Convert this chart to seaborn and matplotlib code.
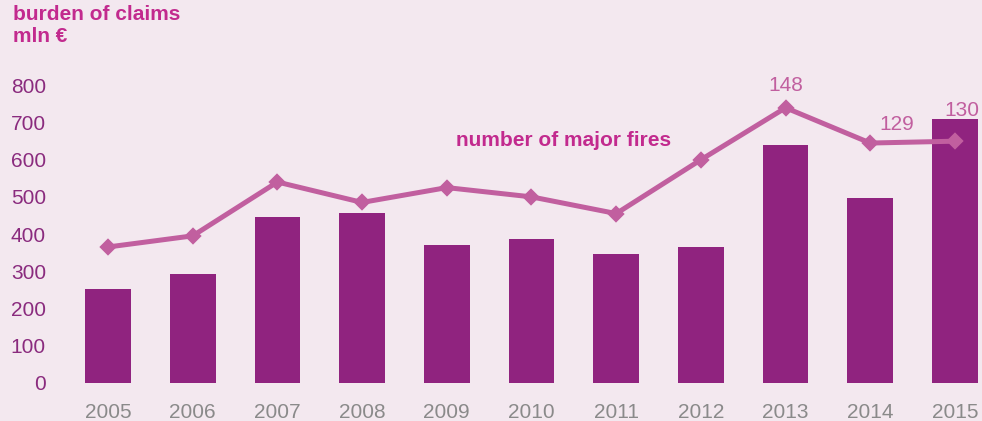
import matplotlib
matplotlib.use("Agg")
import matplotlib.pyplot as plt
import seaborn as sns
import pandas as pd

years = ["2005", "2006", "2007", "2008", "2009", "2010", "2011", "2012", "2013", "2014", "2015"]
claims = [251, 293, 447, 456, 370, 386, 345, 364, 640, 496, 709]
fires = [73, 79, 108, 97, 105, 100, 91, 120, 148, 129, 130]
labelled = {"2013": 148, "2014": 129, "2015": 130}
yticks = [0, 100, 200, 300, 400, 500, 600, 700, 800]

BG = "#F3E8EF"
BAR = "#90237F"
LINE = "#C15F9F"
TITLE = "#C22A8E"
YTXT = "#8A2B7E"
XTXT = "#8A8A8A"

sns.set_theme(style="white")
plt.rcParams["font.family"] = ["Liberation Sans", "DejaVu Sans"]

df = pd.DataFrame({"year": years, "claims": claims, "fires": fires})

fig = plt.figure(figsize=(9.82, 4.21), dpi=100, facecolor=BG)
ax = fig.add_axes([48.7 / 982, (421 - 382.5) / 421, (980.4 - 48.7) / 982, 297 / 421])
ax.set_facecolor(BG)

sns.barplot(data=df, x="year", y="claims", color=BAR, width=0.54, linewidth=0,
            saturation=1, ax=ax)
ax.set_ylim(0, 800)
ax.set_yticks(yticks)
ax.set_yticklabels([str(t) for t in yticks])
ax.set_xlabel("")
ax.set_ylabel("")
for s in ax.spines.values():
    s.set_visible(False)
ax.tick_params(axis="y", length=0, pad=2, labelsize=15, labelcolor=YTXT)
ax.tick_params(axis="x", length=0, pad=14.5, labelsize=15, labelcolor=XTXT)

ax2 = ax.twinx()
sns.pointplot(data=df, x="year", y="fires", color=LINE, markers="D",
              markersize=6.5, linewidth=3.6, ax=ax2)
ax2.set_ylim(0, 160)
ax2.set_xlim(-0.7, 10.3)
ax.set_xlim(-0.7, 10.3)
ax2.axis("off")

offsets = {"2013": (0, 16), "2014": (18.7, 13), "2015": (5, 22.3)}
for y, v in labelled.items():
    i = years.index(y)
    ax2.annotate(str(v), xy=(i, v), xytext=offsets[y], textcoords="offset points",
                 ha="center", va="center", fontsize=15, color=LINE,
                 annotation_clip=False)

fig.text(12.7 / 982, 1 - 5 / 421, "burden of claims\nmln €", ha="left", va="top",
         fontsize=15, fontweight="bold", color=TITLE, linespacing=1.2)
fig.text(456 / 982, 1 - 140.7 / 421, "number of major fires", ha="left", va="center",
         fontsize=15, fontweight="bold", color=TITLE)

fig.savefig("out.png", dpi=100, facecolor=BG)
